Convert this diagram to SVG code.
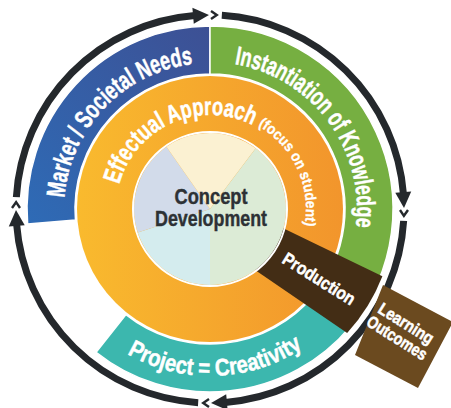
<svg xmlns="http://www.w3.org/2000/svg" width="451" height="408" viewBox="0 0 451 408">
<style>
.lbl{font-family:"Liberation Sans Narrow","Liberation Sans",Arial,sans-serif;font-weight:bold;fill:#fff;stroke:#fff;stroke-width:0.5}
.dk{font-family:"Liberation Sans Narrow","Liberation Sans",Arial,sans-serif;font-weight:bold;fill:#2d3135;stroke:#2d3135;stroke-width:0.4}
.seg{stroke:#fff;stroke-width:1.5}
.arc{fill:none;stroke:#24282c;stroke-width:7}
.head{fill:#24282c}
.chev{fill:none;stroke:#24282c;stroke-width:2.4}
</style>
<defs>
<linearGradient id="gBlue" x1="0" y1="1" x2="1" y2="0">
<stop offset="0" stop-color="#2e6bb6"/><stop offset="1" stop-color="#3d5094"/>
</linearGradient>
<linearGradient id="gOrange" x1="0" y1="0" x2="1" y2="0">
<stop offset="0" stop-color="#f9ba2e"/><stop offset="1" stop-color="#f2952c"/>
</linearGradient>
<g id="arrowQ">
<path class="arc" d="M16.36,197.16 A194,194 0 0 1 194.78,15.60"/>
<polygon class="head" points="208.98,15 192.39,7.77 193.79,23.71"/>
<polyline class="chev" points="211,11 216.8,15.1 211,19"/>
</g>
<path id="pMarket" d="M64.09,214.10 A146,146 0 0 1 208.73,63.01"/>
<path id="pInst" d="M222.81,62.56 A147,147 0 0 1 354.0,238.56"/>
<path id="pProj" d="M119.05,349.06 A167,167 0 0 0 310.50,342.37"/>
<path id="pEff" d="M116.36,200.81 A94,94 0 0 1 266.57,133.93"/>
<path id="pFocus" d="M242.83,118.79 A96,96 0 0 1 300.21,241.83"/>
</defs>
<g id="connectors">
<use href="#arrowQ"/>
<use href="#arrowQ" transform="rotate(90 210 209)"/>
<use href="#arrowQ" transform="rotate(180 210 209)"/>
<use href="#arrowQ" transform="rotate(270 210 209)"/>
</g>
<g id="market">
<path class="seg" fill="url(#gBlue)" d="M27.61,223.99 A183,183 0 0 1 210,26 L210,74 A135,135 0 0 0 75.45,220.06 Z"/>
<text class="lbl" font-size="26"><textPath href="#pMarket" startOffset="50%" text-anchor="middle" textLength="201" lengthAdjust="spacingAndGlyphs">Market / Societal Needs</textPath></text>
</g>
<g id="instantiation">
<path class="seg" fill="#76af41" d="M210,26 A183,183 0 0 1 350.19,326.63 L313.42,295.78 A135,135 0 0 0 210,74 Z"/>
<text class="lbl" font-size="26"><textPath href="#pInst" startOffset="50%" text-anchor="middle" textLength="224" lengthAdjust="spacingAndGlyphs">Instantiation of Knowledge</textPath></text>
</g>
<g id="project">
<path class="seg" fill="#3cb7ae" d="M350.19,326.63 A183,183 0 0 1 96.08,352.22 L125.96,314.65 A135,135 0 0 0 313.42,295.78 Z"/>
<text class="lbl" font-size="24"><textPath href="#pProj" startOffset="50%" text-anchor="middle" textLength="185" lengthAdjust="spacingAndGlyphs">Project = Creativity</textPath></text>
</g>
<g id="effectual">
<circle cx="210" cy="209" r="133" fill="url(#gOrange)"/>
<text class="lbl" font-size="25"><textPath href="#pEff" startOffset="50%" text-anchor="middle" textLength="167" lengthAdjust="spacingAndGlyphs">Effectual Approach</textPath></text>
<text class="lbl" font-size="15" style="stroke-width:0.3"><textPath href="#pFocus" startOffset="50%" text-anchor="middle" textLength="117" lengthAdjust="spacingAndGlyphs">(focus on student)</textPath></text>
</g>
<g id="production">
<path fill="#432d15" d="M260,216.9 L382.4,276.2 A185,185 0 0 1 347.15,333.05 L235,256.3 Z"/>
<text class="lbl" font-size="18" transform="translate(319,279) rotate(32)" y="6" text-anchor="middle" textLength="82" lengthAdjust="spacingAndGlyphs">Production</text>
</g>
<g id="concept">
<path fill="#d4ecee" d="M210,209 L210,285 A76,76 0 0 1 137.72,232.49 Z"/>
<path fill="#d2dbea" d="M210,209 L137.72,232.49 A76,76 0 0 1 166.41,146.74 Z"/>
<path fill="#fbf1d2" d="M210,209 L166.41,146.74 A76,76 0 0 1 255.74,148.30 Z"/>
<path fill="#dcebd6" d="M210,209 L255.74,148.30 A76,76 0 0 1 210,285 Z"/>
<circle cx="210" cy="209" r="77" fill="none" stroke="#fff" stroke-width="2"/>
<text class="dk" font-size="22" x="211" y="204" text-anchor="middle" textLength="73" lengthAdjust="spacingAndGlyphs">Concept</text>
<text class="dk" font-size="22" x="211" y="226" text-anchor="middle" textLength="112" lengthAdjust="spacingAndGlyphs">Development</text>
</g>
<g id="outcomes">
<polygon fill="#6b4a1f" points="383,285 453,322 418,388 355,355"/>
<g transform="translate(402,330) rotate(32)">
<text class="lbl" font-size="17" y="-2" text-anchor="middle" textLength="62" lengthAdjust="spacingAndGlyphs">Learning</text>
<text class="lbl" font-size="17" y="15" text-anchor="middle" textLength="68" lengthAdjust="spacingAndGlyphs">Outcomes</text>
</g>
</g>
</svg>
